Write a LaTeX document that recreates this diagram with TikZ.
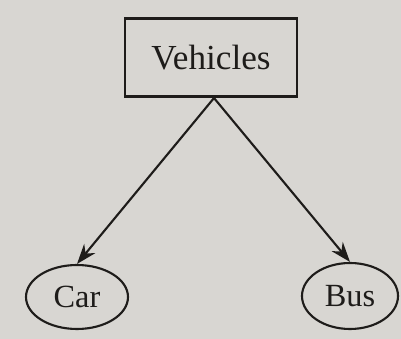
\documentclass[tikz,border=0pt]{standalone}
\usepackage{fontspec}
\setmainfont{Liberation Serif}
\usetikzlibrary{arrows.meta,shapes.geometric}
\definecolor{paper}{RGB}{216,214,210}
\definecolor{ink}{RGB}{30,28,26}
\tikzset{
  every picture/.style={x=0.25mm,y=-0.25mm},
  catbox/.style={draw=ink,line width=2pt,minimum width=43mm,minimum height=19.5mm,inner sep=0pt,text=ink,font=\fontsize{25}{27}\selectfont},
  leaf/.style={ellipse,draw=ink,line width=1.5pt,inner sep=0pt,text=ink,font=\fontsize{23}{25}\selectfont},
  link/.style={draw=ink,line width=1.5pt,-{Stealth[length=5mm,width=3.6mm]}}
}
\begin{document}
\begin{tikzpicture}
  % paper background fixes the page size
  \fill[paper] (0,0) rectangle (401,339);
  \useasboundingbox (0,0) rectangle (401,339);
  % parent category
  \node[catbox] (veh) at (211,57.5) {Vehicles};
  \coordinate (fork) at (214,98);
  % children
  \node[leaf,minimum width=25.5mm,minimum height=16mm] (car) at (77,297) {Car};
  \node[leaf,minimum width=24mm,minimum height=16.5mm] (bus) at (350,296) {Bus};
  % connectors
  \draw[link] (fork) -- (car.north);
  \draw[link] (fork) -- (bus.north);
\end{tikzpicture}
\end{document}
